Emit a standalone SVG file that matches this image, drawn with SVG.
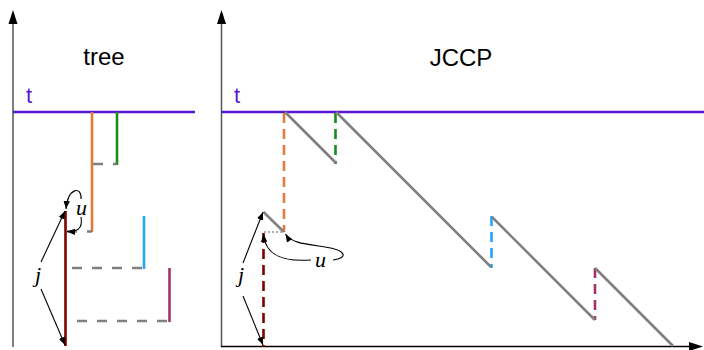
<svg xmlns="http://www.w3.org/2000/svg" width="704" height="350" viewBox="0 0 704 350">
<style>
.axis{stroke:#555;stroke-width:1.5;fill:none}
.haxis{stroke:#000;stroke-width:1.5;fill:none}
.tline{stroke:#5a17d0;stroke-width:2.5;fill:none}
.tl{font-family:"Liberation Sans",Arial,sans-serif;font-size:22px;fill:#5a17d0}
.title{font-family:"Liberation Sans",Arial,sans-serif;font-size:24px;fill:#000;text-anchor:middle}
.var{font-family:"Liberation Serif","Times New Roman",serif;font-style:italic;font-size:22px;fill:#000}
.sol{stroke-width:2.6;fill:none}
.dsh{stroke-width:2.6;fill:none;stroke-dasharray:10,6}
.gd{stroke:#808080;stroke-width:2.6;fill:none;stroke-dasharray:10,10}
.gray{stroke:#808080;stroke-width:2.6;fill:none}
.ptr{stroke:#000;stroke-width:1.1;fill:none;marker-end:url(#ah)}
</style>
<defs>
<marker id="ah" viewBox="0 0 10 10" refX="10" refY="5" markerWidth="8" markerHeight="8" markerUnits="userSpaceOnUse" orient="auto">
<path d="M0,1 L10,5 L0,9 Z" fill="#000"/>
</marker>
</defs>
<rect width="704" height="350" fill="#fff"/>
<g id="tree-panel">
<line class="axis" x1="13" y1="347" x2="13" y2="22"/>
<path d="M13,10 L17.5,24 L8.5,24 Z" fill="#000"/>
<text class="title" x="104" y="65">tree</text>
<line class="tline" x1="13" y1="112" x2="195" y2="112"/>
<text class="tl" x="26" y="103">t</text>
<line class="sol" stroke="#e07b39" x1="92" y1="112" x2="92" y2="232"/>
<line class="sol" stroke="#1a8c1a" x1="117" y1="112" x2="117" y2="165"/>
<line class="gd" x1="93" y1="164" x2="117" y2="164"/>
<line class="gd" x1="67" y1="231.5" x2="92" y2="231.5"/>
<line class="sol" stroke="#7f0000" stroke-width="3" x1="65.5" y1="211" x2="65.5" y2="346"/>
<line class="sol" stroke="#1ea5ff" x1="144" y1="216" x2="144" y2="269"/>
<line class="gd" x1="72" y1="268" x2="144" y2="268"/>
<line class="sol" stroke="#a33468" x1="169.5" y1="268" x2="169.5" y2="322"/>
<line class="gd" x1="77" y1="321" x2="169" y2="321"/>
<text class="var" x="35" y="282">j</text>
<text class="var" x="76" y="215">u</text>
<path class="ptr" d="M41,262 L65,211"/>
<path class="ptr" d="M41,289 L65,345"/>
<path class="ptr" d="M81,199 C82,186 68,187 66,209"/>
<path class="ptr" d="M81,217 C83,229 77,232 67,231.5"/>
</g>
<g id="jccp-panel">
<line class="axis" x1="221.5" y1="347" x2="221.5" y2="22"/>
<path d="M221.5,10 L226,24 L217,24 Z" fill="#000"/>
<line class="haxis" x1="221" y1="346.5" x2="690" y2="346.5"/>
<path d="M703,346.5 L689,342 L689,351 Z" fill="#000"/>
<text class="title" x="461" y="66">JCCP</text>
<line class="tline" x1="221" y1="112" x2="704" y2="112"/>
<text class="tl" x="234" y="103">t</text>
<line class="dsh" stroke="#e07b39" x1="284" y1="113" x2="284" y2="232"/>
<line class="dsh" stroke="#1a8c1a" x1="335.5" y1="113" x2="335.5" y2="164"/>
<line class="dsh" stroke="#1ea5ff" x1="491.5" y1="216" x2="491.5" y2="268"/>
<line class="dsh" stroke="#a33468" x1="595" y1="268" x2="595" y2="320"/>
<line class="dsh" stroke="#7f0000" stroke-width="3" x1="263.5" y1="233" x2="263.5" y2="347"/>
<polyline class="gray" points="285,112 336,163"/>
<polyline class="gray" points="336,112 491,267"/>
<polyline class="gray" points="492,217 595,320"/>
<polyline class="gray" points="595,268 673,346"/>
<polyline class="gray" points="263.5,212 284,232"/>
<line stroke="#999" stroke-width="1.5" stroke-dasharray="2,2" x1="264" y1="232" x2="284" y2="232"/>
<text class="var" x="238" y="282">j</text>
<text class="var" x="315" y="267">u</text>
<path class="ptr" d="M243,263 L263,212"/>
<path class="ptr" d="M243,296 L263,345"/>
<path class="ptr" d="M311,260 C282,262 265,255 263.5,234"/>
<path class="ptr" d="M333,260 C349,258 346,250 325,247 C305,244 291,243 285.5,234"/>
</g>
</svg>
